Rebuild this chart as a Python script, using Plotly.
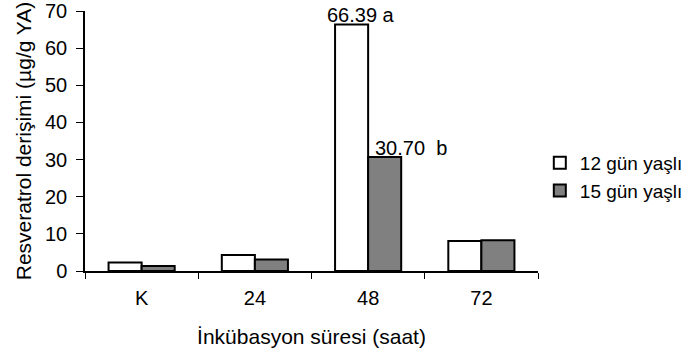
import plotly.graph_objects as go

categories = ["K", "24", "48", "72"]
gun12 = [2.3, 4.3, 66.39, 8.1]
gun15 = [1.35, 3.1, 30.70, 8.3]
series_names = ["12 gün yaşlı", "15 gün yaşlı"]
labels = [("48", 66.39, "66.39 a", 0), ("48", 30.70, "30.70\u00a0\u00a0b", 1)]

fam = "Liberation Sans, Arial, sans-serif"
fnt = dict(family=fam, size=20, color="black")
tfnt = dict(family=fam, size=21, color="black")
lfnt = dict(family=fam, size=19, color="black")

fig = go.Figure()
fig.add_trace(go.Bar(x=categories, y=gun12, name=series_names[0],
                     marker=dict(color="white", line=dict(color="black", width=2)),
                     offsetgroup=0))
fig.add_trace(go.Bar(x=categories, y=gun15, name=series_names[1],
                     marker=dict(color="#808080", line=dict(color="black", width=2)),
                     offsetgroup=1))

for cat, val, txt, idx in labels:
    fig.add_annotation(x=categories.index(cat), y=val, text=txt, showarrow=False,
                       xref="x", yref="y", yanchor="bottom", xanchor="left",
                       xshift=(-43 if idx == 0 else 5), yshift=-4,
                       font=fnt)

fig.update_layout(
    width=695, height=359,
    margin=dict(l=85, r=157, t=11, b=88, autoexpand=False),
    paper_bgcolor="white", plot_bgcolor="white",
    barmode="group", bargap=0.416, bargroupgap=0,
    font=fnt,
    showlegend=True,
    legend=dict(x=1.004, y=0.362, yanchor="middle", xanchor="left",
                font=lfnt, bgcolor="rgba(0,0,0,0)", itemwidth=30),
    xaxis=dict(type="category", range=[-0.5, 3.5], showline=True, linecolor="black",
               linewidth=1.5, ticks="outside", tickson="boundaries", ticklen=6,
               tickcolor="black", tickwidth=1, automargin=False,
               ticklabelstandoff=8, ticklabeloverflow="allow",
               title=dict(text="İnkübasyon süresi (saat)", font=tfnt, standoff=22),
               tickfont=fnt),
    yaxis=dict(range=[0, 70], dtick=10, showline=True, linecolor="black",
               linewidth=1.5, ticks="outside", ticklen=7, tickcolor="black",
               showgrid=False, zeroline=False, automargin=False,
               ticklabelstandoff=5, ticklabeloverflow="allow",
               title=dict(text="Resveratrol derişimi (µg/g YA)", font=tfnt, standoff=8),
               tickfont=fnt),
)
fig.write_html("out.html", config={"displayModeBar": False},
               post_script="document.body.style.margin='0';document.body.style.overflow='hidden';")
